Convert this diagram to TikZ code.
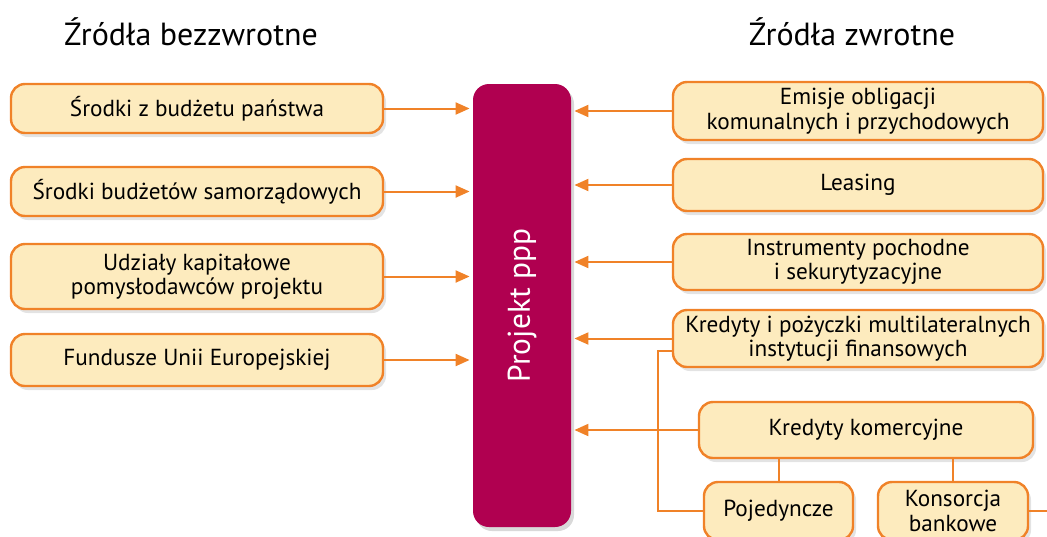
\documentclass[tikz,border=0pt]{standalone}
\usepackage{fontspec}
\setmainfont{PT Sans}
\usetikzlibrary{arrows.meta,shadows}

\definecolor{zrodlo}{RGB}{253,235,190}
\definecolor{ramka}{RGB}{240,130,40}
\definecolor{projekt}{RGB}{176,0,80}

\tikzset{
  zbox/.style={draw=ramka, fill=zrodlo, line width=1.2pt, rounded corners=7pt,
    align=center, inner sep=2pt, font=\fontsize{11.6}{12.2}\selectfont,
    drop shadow={opacity=0.22, shadow xshift=1.5pt, shadow yshift=-2pt}},
  strz/.style={draw=ramka, line width=1pt, shorten >=1.5pt,
    -{Triangle[length=7pt,width=6pt]}},
  laczn/.style={draw=ramka, line width=1pt},
  tytul/.style={font=\fontsize{16}{18}\selectfont},
}

\begin{document}
\begin{tikzpicture}[x=0.5pt,y=-0.5pt]
\useasboundingbox (0,0) rectangle (1047,536);
\clip (0,0) rectangle (1047,536);

% Tytuly
\node[tytul] (tbez) at (191,32) {Źródła bezzwrotne};
\node[tytul] (tzwr) at (852,32) {Źródła zwrotne};

% Projekt
\node[fill=projekt, rounded corners=8pt, minimum width=49pt, minimum height=221.5pt,
  text=white, font=\fontsize{15.7}{17}\selectfont,
  drop shadow={opacity=0.3, shadow xshift=1.5pt, shadow yshift=-2pt}]
  (proj) at (522,305.5) {\rotatebox{90}{Projekt ppp}};

% Zrodla bezzwrotne
\node[zbox, minimum width=186pt, minimum height=24.5pt] (l1) at (197,108.5) {Środki z budżetu państwa};
\node[zbox, minimum width=186pt, minimum height=24.5pt] (l2) at (197,191.5) {Środki budżetów samorządowych};
\node[zbox, minimum width=186pt, minimum height=32.5pt] (l3) at (197,276.5) {Udziały kapitałowe\\pomysłodawców projektu};
\node[zbox, minimum width=186pt, minimum height=26pt] (l4) at (197,360) {Fundusze Unii Europejskiej};

% Zrodla zwrotne
\node[zbox, minimum width=185pt, minimum height=29pt] (r1) at (858,111) {Emisje obligacji\\komunalnych i przychodowych};
\node[zbox, minimum width=185pt, minimum height=26pt] (r2) at (858,185) {Leasing};
\node[zbox, minimum width=185pt, minimum height=28pt] (r3) at (858,262) {Instrumenty pochodne\\i sekurytyzacyjne};
\node[zbox, minimum width=185pt, minimum height=28.5pt] (r4) at (858,338.5) {Kredyty i pożyczki multilateralnych\\instytucji finansowych};
\node[zbox, minimum width=167pt, minimum height=28pt] (kk) at (866,430) {Kredyty komercyjne};
\node[zbox, minimum width=74.5pt, minimum height=29pt] (poj) at (778.5,511) {Pojedyncze};
\node[zbox, minimum width=75pt, minimum height=29pt] (kons) at (953,511) {Konsorcja\\bankowe};

% Strzalki
\foreach \z in {l1,l2,l3,l4}
  \draw[strz] (\z.east) -- (\z.east -| proj.west);
\foreach \z in {r1,r2,r3,r4,kk}
  \draw[strz] (\z.west) -- (\z.west -| proj.east);

% Polaczenia
\coordinate (zag) at (658,351);
\coordinate (kraw) at (1047,511);
\draw[laczn] (r4.west |- zag) -- (zag) |- (poj.west);
\draw[laczn] (kk.south -| poj.north) -- (poj.north);
\draw[laczn] (kk.south -| kons.north) -- (kons.north);
\draw[laczn] (kons.east) -- (kraw);
\end{tikzpicture}
\end{document}
